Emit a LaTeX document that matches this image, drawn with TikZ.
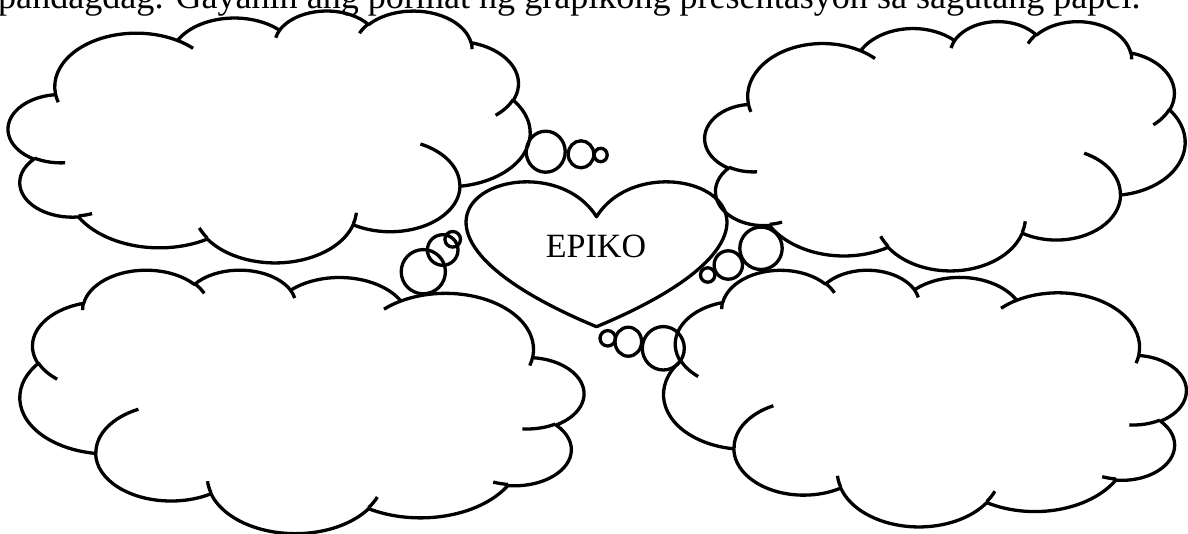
\documentclass[tikz,border=0pt]{standalone}
\usepackage{graphicx}
\usepackage{fontspec}
\setmainfont{Liberation Serif}
\makeatletter
% one arc of the cloud outline, angles given as "visual" angles
\newcommand\cldarc[4]{%
  \pgfextra{%
    \pgfmathparse{atan2((#1)*sin(#3),(#2)*cos(#3))}\let\cld@ts\pgfmathresult
    \pgfmathparse{mod(\cld@ts-(#3)+540,360)-180}\let\cld@cs\pgfmathresult
    \pgfmathparse{atan2((#1)*sin((#3)+(#4)),(#2)*cos((#3)+(#4)))}\let\cld@te\pgfmathresult
    \pgfmathparse{mod(\cld@te-((#3)+(#4))+540,360)-180}\let\cld@ce\pgfmathresult
    \pgfmathparse{(#3)+\cld@cs}\xdef\cldps{\pgfmathresult}%
    \pgfmathparse{(#4)+\cld@ce-\cld@cs}\xdef\cldpd{\pgfmathresult}%
  }
  arc[start angle=\cldps, delta angle=\cldpd, x radius=#1, y radius=#2]%
}
\makeatother
\newcommand\cloudpath{%
  (39.00,143.70)
  \cldarc{67.53}{91.90}{-190.4875}{123.7805}
  \cldarc{53.33}{72.67}{-144.1024}{89.9452}
  \cldarc{43.65}{59.45}{-145.8079}{99.7230}
  \cldarc{48.57}{65.95}{-130.9861}{117.2417}
  \cldarc{53.33}{72.73}{-78.7089}{109.0269}
  \cldarc{67.75}{92.20}{-46.2673}{130.2690}
  \cldarc{57.85}{78.67}{0.6250}{114.0333}
  \cldarc{67.52}{92.15}{22.4516}{115.1726}
  \cldarc{77.20}{105.43}{66.2426}{75.7110}
  \cldarc{43.60}{59.18}{-274.9421}{146.7356}
  \cldarc{43.45}{59.45}{-246.8285}{152.5189}
  -- cycle
  (46.93,261.77) \cldarc{43.45}{59.45}{86.7420}{26.4295}
  (69.28,348.99) \cldarc{43.60}{59.18}{73.6105}{11.4475}
  (164.78,390.90) \cldarc{67.52}{92.15}{137.6242}{14.0811}
  (288.27,347.51) \cldarc{67.52}{92.15}{6.4533}{15.9984}
  (341.29,229.54) \cldarc{57.85}{78.67}{-70.2924}{70.9174}
  (417.98,153.54) \cldarc{53.33}{72.73}{30.3180}{27.7515}
  (383.24,54.26) \cldarc{48.57}{65.95}{-13.7443}{14.8589}
  (290.78,39.52) \cldarc{48.57}{65.95}{-149.1815}{18.1954}
  (221.41,47.20) \cldarc{43.65}{59.45}{-163.4943}{17.6864}
  (140.00,51.92) \cldarc{67.53}{91.90}{-66.7070}{12.3194}
  (41.27,157.89) \cldarc{67.53}{91.90}{157.6544}{11.8582}
}
\tikzset{
  ink/.style={line width=3.3pt, draw=black},
  cloudline/.style={ink, line join=round},
  bubble/.style={ink},
  label/.style={font=\fontsize{34}{40}\selectfont, inner sep=0pt},
}
\begin{document}
\begin{tikzpicture}[x=1pt, y=-1pt]
\useasboundingbox (0,0) rectangle (1188,534);
% instruction line (cut off at the top)
\node[anchor=base west, inner sep=0pt] (instr) at (-2,9)
  {\resizebox{1142pt}{!}{pandagdag. Gayahin ang pormat ng grapikong presentasyon sa sagutang papel.}};
% clouds
\begin{scope}[shift={(8.4,10.2)}, x=1.2074pt, y=-0.5829pt]
  \draw[cloudline] \cloudpath;
\end{scope}
\begin{scope}[shift={(705,20.8)}, x=1.1111pt, y=-0.5769pt]
  \draw[cloudline] \cloudpath;
\end{scope}
\begin{scope}[shift={(583.6,269.3)}, x=-1.3046pt, y=-0.6097pt]
  \draw[cloudline] \cloudpath;
\end{scope}
\begin{scope}[shift={(1186,269.4)}, x=-1.2090pt, y=-0.5940pt]
  \draw[cloudline] \cloudpath;
\end{scope}
% heart
\draw[cloudline] (596.5,216.7) .. controls (650.5,131.1) and (860.9,216.7) .. (596.5,326.7)
  .. controls (332.1,216.7) and (542.5,131.1) .. (596.5,216.7) -- cycle;
\node[label] (epiko) at (596,246) {EPIKO};
% thought bubbles
\draw[bubble] (545.7,151.7) ellipse[x radius=19.5, y radius=20.5];
\draw[bubble] (581,154.3) ellipse[x radius=12.8, y radius=13.5];
\draw[bubble] (600.7,155) ellipse[x radius=6.5, y radius=6.7];
\draw[bubble] (423.3,271.7) circle[radius=22.1];
\draw[bubble] (442.7,250) circle[radius=15.3];
\draw[bubble] (452.7,239.3) circle[radius=7.8];
\draw[bubble] (761,248.3) circle[radius=21.2];
\draw[bubble] (728.3,265) circle[radius=14.2];
\draw[bubble] (707.7,275) circle[radius=7.2];
\draw[bubble] (607.7,338.3) circle[radius=7.7];
\draw[bubble] (628.3,341.7) ellipse[x radius=13.3, y radius=14.5];
\draw[bubble] (663.3,348.3) ellipse[x radius=21, y radius=21.7];
\end{tikzpicture}
\end{document}
